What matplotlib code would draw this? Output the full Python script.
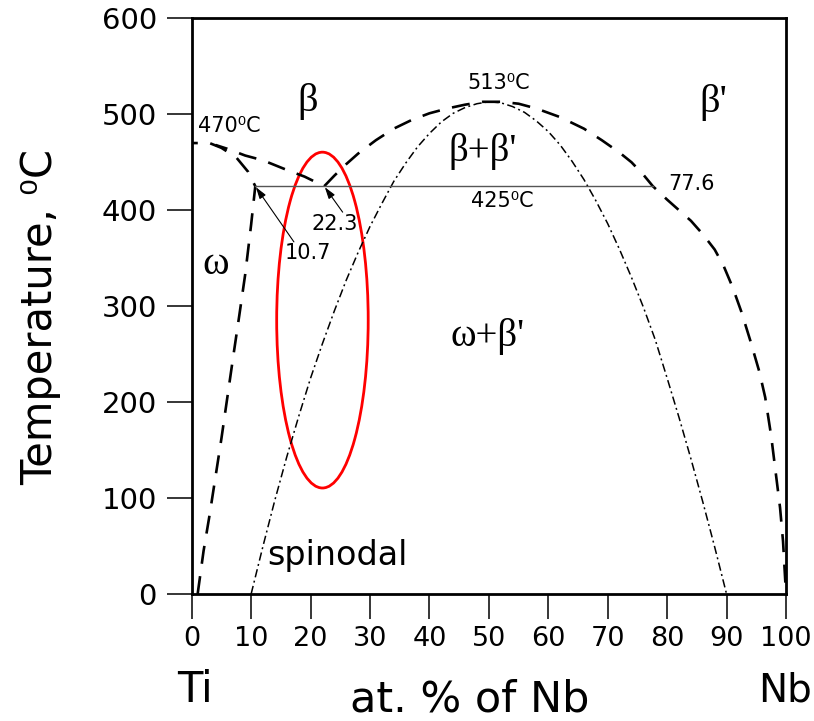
import matplotlib
matplotlib.use("Agg")
import matplotlib.pyplot as plt
from matplotlib.patches import Ellipse

plt.rcParams['font.family'] = ['DejaVu Sans']
plt.rcParams['lines.scale_dashes'] = False

# composition (at.% Nb) / temperature (°C) traces of the Ti-Nb phase diagram
# omega solvus: from the Ti-rich foot up to the eutectoid point, then back to 470 °C at pure Ti
omega_x = [1.0, 2.0, 3.0, 4.0, 5.0, 6.0, 7.0, 8.0, 9.0, 10.0, 10.7, 9.5, 7.5, 5.0, 3.0, 0.0]
omega_t = [0, 45, 82, 122, 162, 205, 248, 290, 333, 385, 425, 440, 455, 465, 470, 470]

# beta / (beta + omega) boundary
beta_x = [4.0, 6.0, 9.0, 12.0, 16.0, 19.0, 22.3]
beta_t = [468, 464, 457, 452, 442, 435, 425]

# miscibility-gap dome (beta + beta')
dome_x = [22.3, 24, 26, 28, 31, 34, 37, 40, 43, 46, 49, 52, 55, 58, 62, 66, 69, 72, 74, 76, 77.6,
          80, 82, 84, 86, 88, 89.5, 91, 92.5, 94, 95.5, 96.5, 97.5, 98.3, 99, 99.5, 100]
dome_t = [425, 436, 448, 459, 473, 485, 494, 501, 506, 510, 513, 513, 511, 506, 497, 485, 473, 460, 450, 437, 425,
          411, 400, 389, 375, 359, 342, 320, 294, 264, 232, 205, 165, 125, 90, 55, 0]

# spinodal
spin_x = [10, 12, 14, 16, 18, 20, 22, 24, 26, 28, 30, 32, 34, 36, 38, 40, 42, 44, 46, 48, 50,
          52, 54, 56, 58, 60, 62, 64, 66, 68, 70, 72, 74, 76, 78, 80, 82, 84, 86, 88, 90]
spin_t = [0, 50, 98, 143, 185, 225, 261, 295, 327, 356, 383, 407, 430, 449, 466, 480, 492, 501, 507, 511, 513,
          512, 508, 502, 493, 482, 468, 451, 432, 410, 386, 359, 330, 299, 265, 225, 184, 141, 96, 49, 0]

eutectoid_x = [10.7, 77.6]
eutectoid_t = [425, 425]

x_ticks = [0, 10, 20, 30, 40, 50, 60, 70, 80, 90, 100]
y_ticks = [0, 100, 200, 300, 400, 500, 600]

fig = plt.figure(figsize=(8.14, 7.21), dpi=100)
ax = fig.add_axes([0.2355, 0.1761, 0.7301, 0.7985])
ax.set_xlim(0, 100)
ax.set_ylim(0, 600)

dash_long = (0, (13, 9))
ax.plot(omega_x, omega_t, color='black', lw=1.9, linestyle=dash_long)
ax.plot(beta_x, beta_t, color='black', lw=1.9, linestyle=(4, (13, 9)))
ax.plot(dome_x, dome_t, color='black', lw=1.9, linestyle=dash_long)
ax.plot(spin_x, spin_t, color='black', lw=1.1, linestyle=(0, (6, 2.5, 1.4, 2.5)))
ax.plot(eutectoid_x, eutectoid_t, color='#555555', lw=1.0)

# highlighted region around the low-Nb side of the spinodal
ax.add_patch(Ellipse((22.0, 285.5), 15.4, 350, fill=False, edgecolor='red', lw=2.0))

arrow = dict(arrowstyle='-|>,head_length=0.7,head_width=0.22', color='black', lw=0.8,
             shrinkA=0, shrinkB=0)
ax.annotate('', xy=(10.8, 424), xytext=(17.2, 367), arrowprops=arrow)
ax.annotate('', xy=(22.4, 424), xytext=(25.4, 398), arrowprops=arrow)
ax.text(19.6, 355, '10.7', fontsize=15, ha='center', va='center')
ax.text(24.1, 386, '22.3', fontsize=15, ha='center', va='center')

ax.text(84.1, 427, '77.6', fontsize=15, ha='center', va='center')
ax.text(52.2, 410, '425⁰C', fontsize=15, ha='center', va='center')
ax.text(51.7, 533, '513⁰C', fontsize=15, ha='center', va='center')
ax.text(6.4, 488, '470⁰C', fontsize=15, ha='center', va='center')
ax.text(24.6, 40, 'spinodal', fontsize=24, ha='center', va='center')

serif = ['Liberation Serif', 'DejaVu Serif']
ax.text(19.6, 513, 'β', fontsize=29, ha='center', va='center', family=serif)
ax.text(87.7, 512, "β'", fontsize=29, ha='center', va='center', family=serif)
ax.text(48.9, 461, "β+β'", fontsize=28, ha='center', va='center', family=serif)
ax.text(4.0, 343, 'ω', fontsize=29, ha='center', va='center', family=serif)
ax.text(49.7, 268, "ω+β'", fontsize=28, ha='center', va='center', family=serif)

ax.set_xticks(x_ticks)
ax.set_yticks(y_ticks)
ax.tick_params(axis='x', direction='out', length=18, width=1.1, labelsize=19.5, pad=5)
ax.tick_params(axis='y', direction='out', length=18, width=1.1, labelsize=21, pad=7)
for s in ax.spines.values():
    s.set_linewidth(2.0)

fig.text(19 / 814, 1 - 317 / 721, 'Temperature, ⁰C', fontsize=30, rotation=90,
         ha='left', va='center')
fig.text(470 / 814, 1 - 712 / 721, 'at. % of Nb', fontsize=31, ha='center', va='baseline')
fig.text(177 / 814, 1 - 702 / 721, 'Ti', fontsize=30, ha='left', va='baseline')
fig.text(812 / 814, 1 - 702 / 721, 'Nb', fontsize=28, ha='right', va='baseline')

fig.savefig('out.png', dpi=100)
